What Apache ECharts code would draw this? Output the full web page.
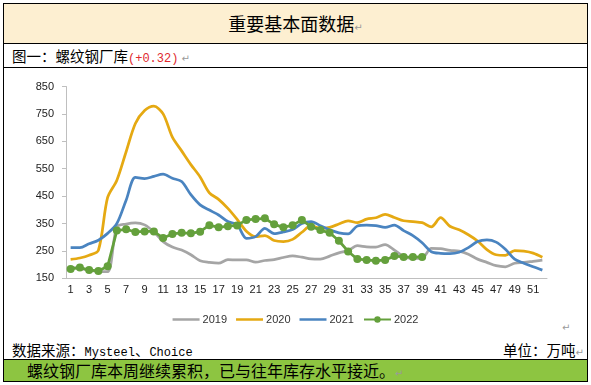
<!DOCTYPE html>
<html><head><meta charset="utf-8">
<script src="https://cdn.jsdelivr.net/npm/echarts@6/dist/echarts.min.js"></script>
<style>
html,body{margin:0;padding:0;background:#fff;width:591px;height:385px;overflow:hidden;}
.abs{position:absolute;box-sizing:border-box;white-space:nowrap;}
.cjk{font-family:"Noto Sans CJK SC",sans-serif;color:#000;}
.mono{font-family:"Liberation Mono",monospace;font-size:12px;}
.pm{color:#9a9a9a;font-size:10px;font-family:"DejaVu Sans",sans-serif;}
#title{left:3px;top:3px;width:585px;height:41px;background:#fdefd1;border:1px solid #000;font-size:18px;text-align:center;line-height:39px;}
#row2{left:3px;top:43px;width:585px;height:25px;border:1px solid #000;font-size:14.5px;line-height:23px;padding-left:8px;}
#body{left:3px;top:67px;width:585px;height:293px;border-left:1px solid #000;border-right:1px solid #000;}
#src{left:12px;top:340px;font-size:14.5px;line-height:20px;}
#unit{left:503px;top:340px;font-size:14.5px;line-height:20px;}
#green{left:3px;top:359px;width:585px;height:23px;background:#8dc541;border:1px solid #000;font-size:16px;line-height:21px;padding-left:23px;}
#chart{position:absolute;left:0;top:0;width:591px;height:385px;}
.red{color:#e0282e;}
.wavy{text-decoration:underline wavy #e03030;text-decoration-thickness:1px;text-underline-offset:2px;}
</style>
</head><body>
<div id="title" class="abs cjk">重要基本面数据<span class="pm">↵</span></div>
<div id="row2" class="abs cjk">图一：螺纹钢厂库<span class="red mono">(+0.32)</span><span class="pm"> ↵</span></div>
<div id="body" class="abs"></div>
<div class="abs pm" style="left:562px;top:322px;">↵</div>
<div id="src" class="abs cjk">数据来源：<span class="mono wavy">Mysteel</span>、<span class="mono">Choice</span></div>
<div id="unit" class="abs cjk">单位：万吨<span class="pm">↵</span></div>
<div id="green" class="abs cjk">螺纹钢厂库本周继续累积，已与往年库存水平接近。<span class="pm">↵</span></div>
<div id="chart"></div>
<script>
const weeks = ['1','2','3','4','5','6','7','8','9','10','11','12','13','14','15','16','17','18','19','20','21','22','23','24','25','26','27','28','29','30','31','32','33','34','35','36','37','38','39','40','41','42','43','44','45','46','47','48','49','50','51','52'];
const yTicks = [150, 850, 100]; // min, max, interval
const s2019 = [190,186,180,175,174,338,348,352,345,320,284,264,253,236,214,208,205,218,217,217,209,215,218,226,232,227,221,220,231,243,251,269,265,264,273,253,229,223,224,259,258,252,249,238,220,208,196,192,205,208,212,216];
const s2020 = [219,224,234,252,445,508,612,715,762,778,750,665,615,565,520,462,438,405,365,322,302,306,288,284,292,318,342,332,336,348,360,353,366,371,383,372,360,357,353,338,371,340,327,309,286,255,236,234,251,249,242,227];
const s2021 = [262,262,276,289,314,350,435,518,514,522,530,515,503,455,418,399,381,357,346,296,302,332,313,319,328,350,357,342,327,316,312,341,344,342,336,344,324,306,280,247,241,240,245,262,284,290,282,256,220,205,192,180];
const s2022 = [184,189,180,177,194,324,329,319,321,321,297,312,316,314,320,344,336,340,343,363,366,369,347,336,344,363,338,326,316,287,248,220,217,214,217,231,228,227.7,228.0];
const names = ['2019','2020','2021','2022'];
const colors = ['#a5a5a5','#e5a912','#4a84c0','#64a03c'];

const chart = echarts.init(document.getElementById('chart'), null, {renderer:'canvas'});
const axisColor = '#bfbfbf';
const lineIcon = 'path://M0,0M27,8M0,2.75H27V5.25H0Z';
const mk = (i, data, extra) => Object.assign({
  name: names[i], type:'line', data: data, smooth:0.3, symbol:'none',
  lineStyle:{width:2.75, color:colors[i]}, itemStyle:{color:colors[i]}, z: 2+i
}, extra||{});
chart.setOption({
  animation:false,
  textStyle:{fontFamily:'Liberation Sans'},
  grid:{left:66, right:44, top:86.5, bottom:106.7},
  legend:{top:309, left:'center', itemWidth:27, itemHeight:8, itemGap:9,
    textStyle:{fontSize:11, color:'#333', fontFamily:'Liberation Sans', padding:[0,0,0,-2]},
    data:[{name:'2019', icon:lineIcon},{name:'2020', icon:lineIcon},{name:'2021', icon:lineIcon},{name:'2022'}]},
  xAxis:{type:'category', data:weeks, boundaryGap:true,
    axisLine:{lineStyle:{color:axisColor}},
    axisTick:{interval:4, length:4, lineStyle:{color:axisColor}},
    axisLabel:{interval:1, fontSize:11, color:'#222', margin:6}},
  yAxis:{type:'value', min:yTicks[0], max:yTicks[1], interval:yTicks[2],
    axisLine:{show:true, lineStyle:{color:axisColor}},
    axisTick:{show:true, length:4, lineStyle:{color:axisColor}},
    splitLine:{show:false},
    axisLabel:{fontSize:11, color:'#222', margin:12}},
  series:[
    mk(0, s2019), mk(1, s2020), mk(2, s2021),
    mk(3, s2022, {symbol:'circle', symbolSize:8, showAllSymbol:true, smooth:false})
  ]
});
</script>
</body></html>
